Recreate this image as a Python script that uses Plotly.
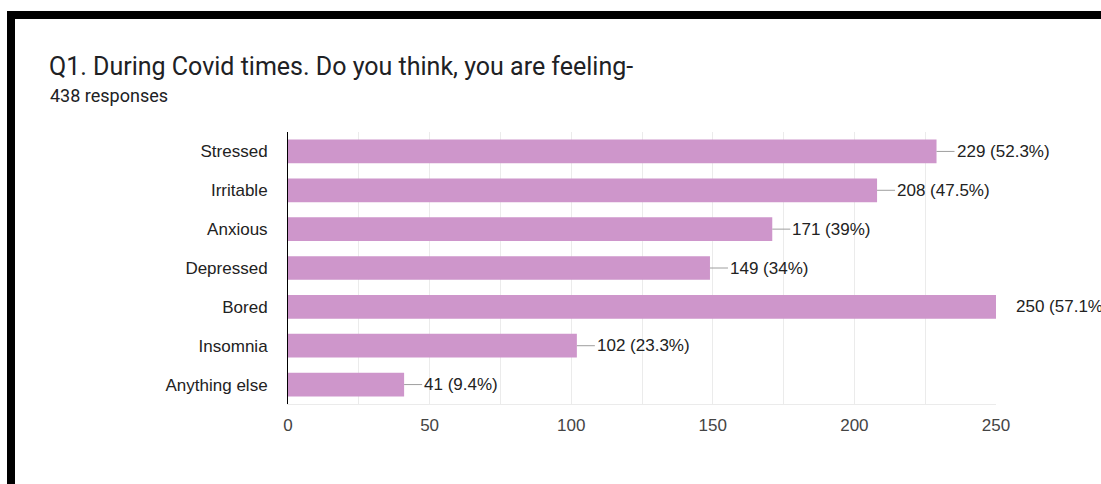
import plotly.graph_objects as go

categories = ["Stressed", "Irritable", "Anxious", "Depressed", "Bored", "Insomnia", "Anything else"]
counts = [229, 208, 171, 149, 250, 102, 41]
total_responses = 438
title_text = "Q1. During Covid times. Do you think, you are feeling-"
subtitle_text = f"{total_responses} responses"
x_ticks = [0, 50, 100, 150, 200, 250]
x_max = 250

W, H = 1101, 484
L, R, T, B = 288, 105, 132, 80
pw, ph = W - L - R, H - T - B

def px_x(px):
    return (px - L) / pw

def px_y(py):
    return (H - B - py) / ph

bar_color = "#ce96cb"

fig = go.Figure(go.Bar(
    y=categories, x=counts, orientation="h",
    marker=dict(color=bar_color, line=dict(width=0)),
    hoverinfo="skip",
))

units_per_px = x_max / pw
conn = 18 * units_per_px
shapes = []
annotations = []
for c, v in zip(categories, counts):
    pct = round(v / total_responses * 100, 1)
    pct_s = f"{pct:g}"
    shapes.append(dict(type="line", xref="x", yref="y", x0=v, x1=v + conn, y0=c, y1=c,
                       line=dict(color="#9e9e9e", width=1), layer="above"))
    annotations.append(dict(x=(v + conn) / x_max, y=c, xref="paper", yref="y",
                            text=f"{v} ({pct_s}%)",
                            showarrow=False, xanchor="left", yanchor="middle",
                            font=dict(family="Liberation Sans, Arial", size=17, color="#222")))

# title & subtitle
annotations.append(dict(x=px_x(47), y=px_y(67), xref="paper", yref="paper", text=title_text,
                        showarrow=False, xanchor="left", yanchor="middle",
                        font=dict(family="Roboto", size=25, color="#202124")))
annotations.append(dict(x=px_x(48), y=px_y(95), xref="paper", yref="paper", text=subtitle_text,
                        showarrow=False, xanchor="left", yanchor="middle",
                        font=dict(family="Roboto", size=18, color="#202124")))

# black frame (screenshot border)
shapes.append(dict(type="rect", xref="paper", yref="paper", x0=px_x(7), x1=px_x(W + 5),
                   y0=px_y(19), y1=px_y(11), fillcolor="black", line=dict(width=0), layer="above"))
shapes.append(dict(type="rect", xref="paper", yref="paper", x0=px_x(7), x1=px_x(15),
                   y0=px_y(H + 5), y1=px_y(11), fillcolor="black", line=dict(width=0), layer="above"))

fig.update_layout(
    width=W, height=H,
    margin=dict(l=L, r=R, t=T, b=B, pad=0),
    paper_bgcolor="white", plot_bgcolor="white",
    bargap=0.39,
    showlegend=False,
    shapes=shapes,
    annotations=annotations,
    xaxis=dict(range=[0, x_max], tickvals=x_ticks, showgrid=True, gridcolor="#ebebeb",
               gridwidth=1, zeroline=False, showline=True, linecolor="#ebebeb", linewidth=1,
               ticks="",
               tickfont=dict(family="Liberation Sans, Arial", size=17, color="#444"),
               ticklabelstandoff=6,
               minor=dict(dtick=25, showgrid=True, gridcolor="#ebebeb", gridwidth=1)),
    yaxis=dict(autorange="reversed", showgrid=False, zeroline=False, showline=True,
               linecolor="black", linewidth=1, ticks="", ticklabelstandoff=16,
               tickfont=dict(family="Liberation Sans, Arial", size=17, color="#222")),
)

fig.write_html("out.html")
